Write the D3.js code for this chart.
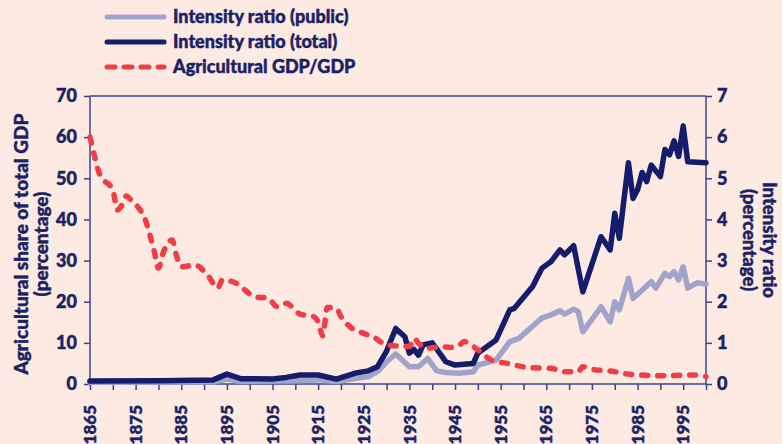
<!DOCTYPE html>
<html>
<head>
<meta charset="utf-8">
<script src="https://cdn.jsdelivr.net/npm/d3@7"></script>
<style>
  body { margin: 0; background: #fdeae3; }
  svg { display: block; }
  text { font-family: Lato, "Open Sans", sans-serif; font-weight: 900; fill: #1b2263; stroke: #1b2263; stroke-width: 0.45px; }
</style>
</head>
<body>
<div class="chart"></div>
<script>
// agricultural GDP share (left axis, %)
var agriYears = [1865,1866,1867,1868,1870,1871,1872,1873,1874,1876,1877,1878,1879,1880,1881,1883,1884,1885,1888,1891,1893,1894,1897,1899,1901,1904,1906,1908,1911,1914,1915,1916,1917,1919,1920,1922,1925,1927,1930,1933,1935,1936,1937,1939,1942,1944,1946,1947,1950,1953,1957,1961,1966,1969,1972,1973,1975,1980,1983,1991,1997,2000];
var agriValues = [60,55.3,51.3,49.6,47.2,42.3,43.5,45.7,44.7,42.3,40.3,36.7,32.6,28.2,31.8,35,31,28.5,28.9,26.1,23.3,25.3,24.5,22.8,21.2,20.9,18.8,19.6,17,16.4,15.1,11.7,18.6,18.4,16.4,13.9,12.3,11.5,9.5,9.2,9.1,11.1,9.9,8.7,9.1,8.9,9.5,10.3,8.3,5.8,4.9,4.0,3.8,3.0,3.0,4.2,3.6,3.0,2.4,2.0,2.2,1.8];

// intensity ratio, total (right axis, %)
var totalYears = [1865,1880,1892,1895,1898,1905,1908,1911,1915,1919,1923,1926,1928,1930,1932,1934,1935,1936,1937,1938,1940,1941,1943,1945,1949,1950,1954,1957,1958,1962,1964,1966,1968,1969,1971,1973,1977,1979,1980,1981,1983,1984,1985,1986,1987,1988,1990,1991,1992,1993,1994,1995,1996,2000];
var totalValues = [0.07,0.08,0.1,0.24,0.13,0.12,0.16,0.22,0.22,0.12,0.26,0.32,0.42,0.8,1.35,1.15,0.75,0.84,0.7,0.95,1.0,0.85,0.54,0.46,0.5,0.75,1.07,1.8,1.84,2.37,2.81,2.97,3.26,3.14,3.36,2.24,3.58,3.26,4.15,3.54,5.38,4.51,4.72,5.14,4.92,5.32,5.04,5.7,5.57,5.91,5.53,6.27,5.4,5.38];

// intensity ratio, public (right axis, %)
var publicYears = [1865,1892,1895,1898,1910,1915,1919,1926,1928,1930,1932,1935,1937,1939,1941,1943,1946,1949,1950,1954,1957,1959,1964,1966,1968,1969,1971,1972,1973,1976,1977,1979,1980,1981,1983,1984,1986,1988,1989,1991,1992,1993,1994,1995,1996,1998,2000];
var publicValues = [0.04,0.05,0.12,0.06,0.08,0.1,0.06,0.18,0.3,0.54,0.73,0.42,0.42,0.62,0.32,0.28,0.26,0.3,0.46,0.58,1.03,1.11,1.6,1.68,1.78,1.7,1.82,1.76,1.27,1.72,1.88,1.51,2.0,1.8,2.57,2.08,2.28,2.49,2.33,2.69,2.61,2.73,2.53,2.85,2.33,2.46,2.43];

var yearTicks = d3.range(1865, 2001, 5);
var yearLabels = d3.range(1865, 2000, 10);
var leftTicks = d3.range(0, 71, 10);
var rightTicks = d3.range(0, 8, 1);

var legendLabels = ["Intensity ratio (public)", "Intensity ratio (total)", "Agricultural GDP/GDP"];

var width = 782, height = 444;
var margin = {left: 90, right: 76, top: 96, bottom: 60};

var colTotal = "#141c6b", colPublic = "#a1a4ca", colAgri = "#ef3e46", colAxis = "#3d4389";

var svg = d3.select(".chart").append("svg")
    .attr("width", width)
    .attr("height", height);

var x = d3.scaleLinear().domain([1865, 2000]).range([margin.left, width - margin.right]);
var yL = d3.scaleLinear().domain([0, 70]).range([height - margin.bottom, margin.top]);
var yR = d3.scaleLinear().domain([0, 7]).range([height - margin.bottom, margin.top]);

// frame top line
svg.append("line")
    .attr("x1", x(1865)).attr("x2", x(2000))
    .attr("y1", yL(70)).attr("y2", yL(70))
    .attr("stroke", colAxis).attr("stroke-width", 1.5);

function styleAxis(g) {
    g.select(".domain").attr("stroke", colAxis).attr("stroke-width", 1.5);
    g.selectAll(".tick line").attr("stroke", colAxis).attr("stroke-width", 1.5);
    g.selectAll("text").attr("fill", "#1b2263").style("font-size", "18px")
        .attr("font-family", null);
}

var gLeft = svg.append("g")
    .attr("transform", "translate(" + x(1865) + ",0)")
    .call(d3.axisLeft(yL).tickValues(leftTicks).tickSize(6).tickPadding(7).tickFormat(d3.format("d")));
styleAxis(gLeft);
gLeft.select(".domain").attr("d", "M0," + yL(0) + "V" + yL(70));

var gRight = svg.append("g")
    .attr("transform", "translate(" + x(2000) + ",0)")
    .call(d3.axisRight(yR).tickValues(rightTicks).tickSize(6).tickPadding(5).tickFormat(d3.format("d")));
styleAxis(gRight);
gRight.select(".domain").attr("d", "M0," + yR(0) + "V" + yR(7));

var gBottom = svg.append("g")
    .attr("transform", "translate(0," + yL(0) + ")")
    .call(d3.axisBottom(x).tickValues(yearTicks).tickSize(6).tickFormat(""));
styleAxis(gBottom);
gBottom.select(".domain").attr("d", "M" + x(1865) + ",0H" + x(2000));

svg.append("g").selectAll("text")
    .data(yearLabels)
    .join("text")
    .attr("transform", function(d) { return "translate(" + x(d) + "," + (yL(0) + 21) + ") rotate(-90)"; })
    .attr("text-anchor", "end")
    .attr("dy", "0.36em")
    .style("font-size", "17px")
    .text(function(d) { return d; });

// axis titles
var leftTitle = svg.append("text")
    .attr("transform", "translate(28," + yL(34) + ") rotate(-90)")
    .attr("text-anchor", "middle")
    .style("font-size", "19px");
leftTitle.append("tspan").attr("x", 0).attr("y", 0).text("Agricultural share of total GDP");
leftTitle.append("tspan").attr("x", 0).attr("y", 20).text("(percentage)");

var rightTitle = svg.append("text")
    .attr("transform", "translate(763," + yR(3.5) + ") rotate(90)")
    .attr("text-anchor", "middle")
    .style("font-size", "18.5px");
rightTitle.append("tspan").attr("x", 0).attr("y", 0).text("Intensity ratio");
rightTitle.append("tspan").attr("x", 0).attr("y", 20).text("(percentage)");

// series
function pairs(years, values) {
    return years.map(function(d, i) { return [d, values[i]]; });
}

var lineR = d3.line().x(function(d) { return x(d[0]); }).y(function(d) { return yR(d[1]); });
var lineL = d3.line().x(function(d) { return x(d[0]); }).y(function(d) { return yL(d[1]); })
    .curve(d3.curveMonotoneX);

svg.append("path")
    .datum(pairs(publicYears, publicValues))
    .attr("d", lineR)
    .attr("fill", "none")
    .attr("stroke", colPublic)
    .attr("stroke-width", 5.5)
    .attr("stroke-linejoin", "round")
    .attr("stroke-linecap", "round");

svg.append("path")
    .datum(pairs(totalYears, totalValues))
    .attr("d", lineR)
    .attr("fill", "none")
    .attr("stroke", colTotal)
    .attr("stroke-width", 5.5)
    .attr("stroke-linejoin", "round")
    .attr("stroke-linecap", "round");

svg.append("path")
    .datum(pairs(agriYears, agriValues))
    .attr("d", lineL)
    .attr("fill", "none")
    .attr("stroke", colAgri)
    .attr("stroke-width", 5.5)
    .attr("stroke-dasharray", "6,10")
    .attr("stroke-linecap", "round");

// legend
var legend = svg.append("g").attr("class", "legend");
var legendStyles = [
    {stroke: colPublic, dash: null},
    {stroke: colTotal, dash: null},
    {stroke: colAgri, dash: "8,9"}
];
legendLabels.forEach(function(label, i) {
    var ly = 17 + i * 25;
    legend.append("line")
        .attr("x1", 107).attr("x2", 164)
        .attr("y1", ly).attr("y2", ly)
        .attr("stroke", legendStyles[i].stroke)
        .attr("stroke-width", 5)
        .attr("stroke-linecap", "round")
        .attr("stroke-dasharray", legendStyles[i].dash);
    legend.append("text")
        .attr("x", 173).attr("y", ly)
        .attr("dy", "0.35em")
        .style("font-size", "18px")
        .text(label);
});
</script>
</body>
</html>
